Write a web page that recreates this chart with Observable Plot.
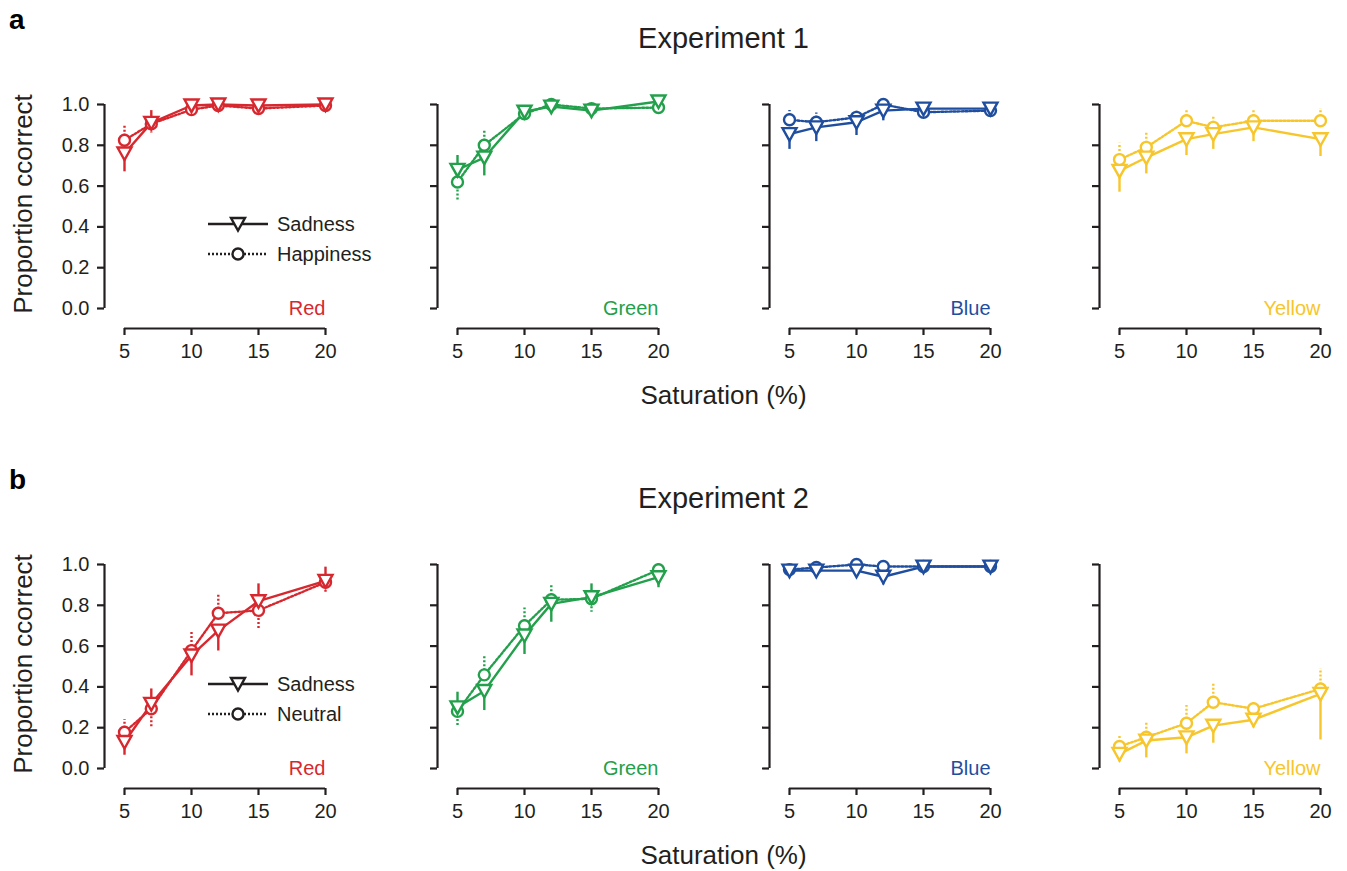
<!DOCTYPE html>
<html>
<head>
<meta charset="utf-8">
<script src="https://cdn.jsdelivr.net/npm/d3@7"></script>
<script src="https://cdn.jsdelivr.net/npm/@observablehq/plot@0.6"></script>
<style>
  body { margin: 0; background: #fff; font-family: "Liberation Sans", Arial, Helvetica, sans-serif; color: #231f20; }
  #root { position: relative; width: 1347px; height: 871px; overflow: hidden; }
  .abs { position: absolute; line-height: 1; white-space: nowrap; }
</style>
</head>
<body>
<div id="root"></div>
<script>
// ---------- DATA ----------
const saturation = [5, 7, 10, 12, 15, 20];
const xTicks = [5, 10, 15, 20];
const yTicks = [0, 0.2, 0.4, 0.6, 0.8, 1.0];
const xDomain = [5, 20];
const yDomain = [0, 1];
const colorNames = ["Red", "Green", "Blue", "Yellow"];
const colorHex = ["#d7282f", "#23a04b", "#1f4e9f", "#f7c62c"];
const titles = ["Experiment 1", "Experiment 2"];
const panelLetters = ["a", "b"];
const xLabel = "Saturation (%)";
const yLabel = "Proportion ccorrect";
const seriesNames1 = ["Sadness", "Happiness"];
const seriesNames2 = ["Sadness", "Neutral"];

// Experiment 1: Sadness vs Happiness (mean, error half-width)
const exp1RedSad      = [0.760, 0.910, 0.995, 1.000, 0.995, 1.000];
const exp1RedSadErr   = [0.090, 0.060, 0.020, 0.020, 0.020, 0.020];
const exp1RedHap      = [0.825, 0.905, 0.975, 0.995, 0.980, 0.995];
const exp1RedHapErr   = [0.070, 0.045, 0.020, 0.010, 0.020, 0.010];

const exp1GreenSad    = [0.680, 0.740, 0.965, 0.990, 0.970, 1.015];
const exp1GreenSadErr = [0.070, 0.090, 0.030, 0.020, 0.020, 0.020];
const exp1GreenHap    = [0.620, 0.800, 0.955, 1.000, 0.980, 0.985];
const exp1GreenHapErr = [0.090, 0.070, 0.030, 0.020, 0.020, 0.020];

const exp1BlueSad     = [0.855, 0.888, 0.913, 0.970, 0.980, 0.980];
const exp1BlueSadErr  = [0.075, 0.070, 0.065, 0.050, 0.020, 0.020];
const exp1BlueHap     = [0.925, 0.913, 0.937, 1.000, 0.962, 0.970];
const exp1BlueHapErr  = [0.045, 0.045, 0.040, 0.020, 0.020, 0.020];

const exp1YellowSad    = [0.675, 0.740, 0.830, 0.855, 0.888, 0.830];
const exp1YellowSadErr = [0.105, 0.080, 0.080, 0.075, 0.070, 0.085];
const exp1YellowHap    = [0.730, 0.790, 0.920, 0.888, 0.920, 0.920];
const exp1YellowHapErr = [0.080, 0.070, 0.050, 0.058, 0.050, 0.060];

// Experiment 2: Sadness vs Neutral
const exp2RedSad      = [0.130, 0.317, 0.554, 0.676, 0.820, 0.920];
const exp2RedSadErr   = [0.065, 0.073, 0.100, 0.100, 0.085, 0.067];
const exp2RedNeu      = [0.178, 0.293, 0.578, 0.761, 0.775, 0.913];
const exp2RedNeuErr   = [0.062, 0.093, 0.098, 0.095, 0.090, 0.057];

const exp2GreenSad    = [0.300, 0.380, 0.652, 0.807, 0.840, 0.938];
const exp2GreenSadErr = [0.074, 0.096, 0.093, 0.090, 0.065, 0.052];
const exp2GreenNeu    = [0.280, 0.459, 0.700, 0.827, 0.832, 0.974];
const exp2GreenNeuErr = [0.074, 0.095, 0.087, 0.070, 0.066, 0.030];

const exp2BlueSad     = [0.970, 0.970, 0.970, 0.940, 0.990, 0.990];
const exp2BlueSadErr  = [0.020, 0.020, 0.020, 0.040, 0.010, 0.010];
const exp2BlueNeu     = [0.975, 0.985, 1.000, 0.990, 0.990, 0.990];
const exp2BlueNeuErr  = [0.010, 0.010, 0.010, 0.010, 0.010, 0.010];

const exp2YellowSad    = [0.072, 0.137, 0.153, 0.210, 0.239, 0.366];
const exp2YellowSadErr = [0.040, 0.085, 0.081, 0.086, 0.040, 0.226];
const exp2YellowNeu    = [0.108, 0.153, 0.222, 0.325, 0.293, 0.390];
const exp2YellowNeuErr = [0.059, 0.074, 0.087, 0.093, 0.030, 0.099];

const exp1Sets = [
  [exp1RedSad, exp1RedSadErr, exp1RedHap, exp1RedHapErr],
  [exp1GreenSad, exp1GreenSadErr, exp1GreenHap, exp1GreenHapErr],
  [exp1BlueSad, exp1BlueSadErr, exp1BlueHap, exp1BlueHapErr],
  [exp1YellowSad, exp1YellowSadErr, exp1YellowHap, exp1YellowHapErr]
];
const exp2Sets = [
  [exp2RedSad, exp2RedSadErr, exp2RedNeu, exp2RedNeuErr],
  [exp2GreenSad, exp2GreenSadErr, exp2GreenNeu, exp2GreenNeuErr],
  [exp2BlueSad, exp2BlueSadErr, exp2BlueNeu, exp2BlueNeuErr],
  [exp2YellowSad, exp2YellowSadErr, exp2YellowNeu, exp2YellowNeuErr]
];

// ---------- LAYOUT ----------
const INK = "#231f20";
const FONT = '"Liberation Sans", Arial, Helvetica, sans-serif';
const panelX5 = [124, 457, 789, 1119];   // pixel position of x=5 in each column
const rowTop = [104, 564];               // pixel position of y=1 in each row
const ML = 40, MR = 22, MT = 20, MB = 50, AX = 20; // AX = axis offset
const PW = 201, PH = 204;
const W = ML + AX + PW + MR, H = MT + PH + AX + MB;
const SW = 2.4;

const triangleDown = {
  draw(context, size) {
    const r = Math.sqrt(size / Math.PI);
    context.moveTo(-r, -0.85 * r);
    context.lineTo(r, -0.85 * r);
    context.lineTo(0, 0.95 * r);
    context.closePath();
  }
};

const root = document.getElementById("root");

function addText(txt, css) {
  const d = document.createElement("div");
  d.className = "abs";
  d.textContent = txt;
  Object.assign(d.style, css);
  root.appendChild(d);
  return d;
}

function panel(set, color, label, showYLabels) {
  const [sad, sadErr, neu, neuErr] = set;
  const rows = saturation.map((s, i) => ({ s, sad: sad[i], neu: neu[i], sadErr: sadErr[i], neuErr: neuErr[i] }));
  const sadBars = rows.map(d => ({ s: d.s, y1: d.sad, y2: d.sad >= d.neu ? d.sad + d.sadErr : d.sad - d.sadErr }));
  const neuBars = rows.map(d => ({ s: d.s, y1: d.neu, y2: d.neu > d.sad ? d.neu + d.neuErr : d.neu - d.neuErr }));
  return Plot.plot({
    width: W, height: H,
    marginLeft: ML, marginRight: MR, marginTop: MT, marginBottom: MB,
    x: { domain: xDomain, insetLeft: AX },
    y: { domain: yDomain, insetBottom: AX },
    style: { fontFamily: FONT, fontSize: "20px", color: INK, background: "transparent", overflow: "visible" },
    marks: [
      Plot.ruleX([xDomain[0]], { y1: yDomain[0], y2: yDomain[1], dx: -AX, stroke: INK, strokeWidth: 2.2 }),
      Plot.ruleY([yDomain[0]], { x1: xDomain[0], x2: xDomain[1], dy: AX, stroke: INK, strokeWidth: 2.2 }),
      Plot.axisY({ ticks: yTicks, tickSize: 7, tickPadding: 8, strokeWidth: 2.2, label: null,
        tickFormat: showYLabels ? (d => d.toFixed(1)) : (() => "") }),
      Plot.axisX({ ticks: xTicks, tickSize: 7, tickPadding: 8, strokeWidth: 2.2, label: null, tickFormat: d => String(d) }),
      Plot.line(rows, { x: "s", y: "neu", stroke: color, strokeWidth: SW, strokeDasharray: "2,2" }),
      Plot.line(rows, { x: "s", y: "sad", stroke: color, strokeWidth: SW }),
      Plot.ruleX(neuBars, { x: "s", y1: "y1", y2: "y2", stroke: color, strokeWidth: SW, strokeDasharray: "2,2" }),
      Plot.ruleX(sadBars, { x: "s", y1: "y1", y2: "y2", stroke: color, strokeWidth: SW }),
      Plot.dot(rows, { x: "s", y: "neu", r: 5.5, stroke: color, fill: "white", strokeWidth: SW }),
      Plot.dot(rows, { x: "s", y: "sad", r: 7, symbol: triangleDown, stroke: color, fill: "white", strokeWidth: SW }),
      Plot.text([label], { frameAnchor: "bottom-right", text: d => d, dy: -AX, lineAnchor: "middle", fill: color, fontSize: 20, textAnchor: "end" })
    ]
  });
}

function legend(names, left, top) {
  const wrap = document.createElement("div");
  wrap.className = "abs";
  Object.assign(wrap.style, { left: left + "px", top: top + "px" });
  const svg = d3.create("svg").attr("width", 190).attr("height", 60)
    .style("font-family", FONT).style("overflow", "visible");
  const rowsY = [14, 44];
  const tri = d3.symbol(triangleDown, 7 * 7 * Math.PI);
  names.forEach((name, i) => {
    const g = svg.append("g").attr("transform", `translate(0,${rowsY[i]})`);
    g.append("line").attr("x1", 8).attr("x2", 68).attr("stroke", INK).attr("stroke-width", SW)
      .attr("stroke-dasharray", i === 1 ? "2,2" : null);
    if (i === 0) {
      g.append("path").attr("d", tri()).attr("transform", "translate(38,0)")
        .attr("fill", "white").attr("stroke", INK).attr("stroke-width", SW);
    } else {
      g.append("circle").attr("cx", 38).attr("r", 5.5)
        .attr("fill", "white").attr("stroke", INK).attr("stroke-width", SW);
    }
    g.append("text").attr("x", 77).attr("dy", "0.35em").attr("font-size", 20).attr("fill", INK).text(name);
  });
  wrap.appendChild(svg.node());
  root.appendChild(wrap);
}

[exp1Sets, exp2Sets].forEach((sets, r) => {
  const yOff = rowTop[r] - rowTop[0];
  addText(panelLetters[r], { left: "9px", top: (6 + yOff) + "px", fontSize: "28px", fontWeight: "bold", color: "#000" });
  addText(titles[r], { left: "0px", width: "1347px", textAlign: "center", top: (24 + yOff) + "px", fontSize: "29px", paddingLeft: "100px", boxSizing: "border-box" });
  addText(xLabel, { left: "0px", width: "1347px", textAlign: "center", top: (382 + yOff) + "px", fontSize: "26px", paddingLeft: "100px", boxSizing: "border-box" });
  addText(yLabel, { left: (23 - 150) + "px", top: (204 + yOff - 13) + "px", width: "300px", height: "26px", textAlign: "center", fontSize: "26px", transform: "rotate(-90deg)", transformOrigin: "50% 50%" });
  sets.forEach((set, c) => {
    const chart = panel(set, colorHex[c], colorNames[c], c === 0);
    const holder = document.createElement("div");
    holder.className = "abs";
    Object.assign(holder.style, { left: (panelX5[c] - ML - AX) + "px", top: (rowTop[r] - MT) + "px" });
    holder.appendChild(chart);
    root.appendChild(holder);
  });
  legend(r === 0 ? seriesNames1 : seriesNames2, 200, 210 + yOff);
});
</script>
</body>
</html>
